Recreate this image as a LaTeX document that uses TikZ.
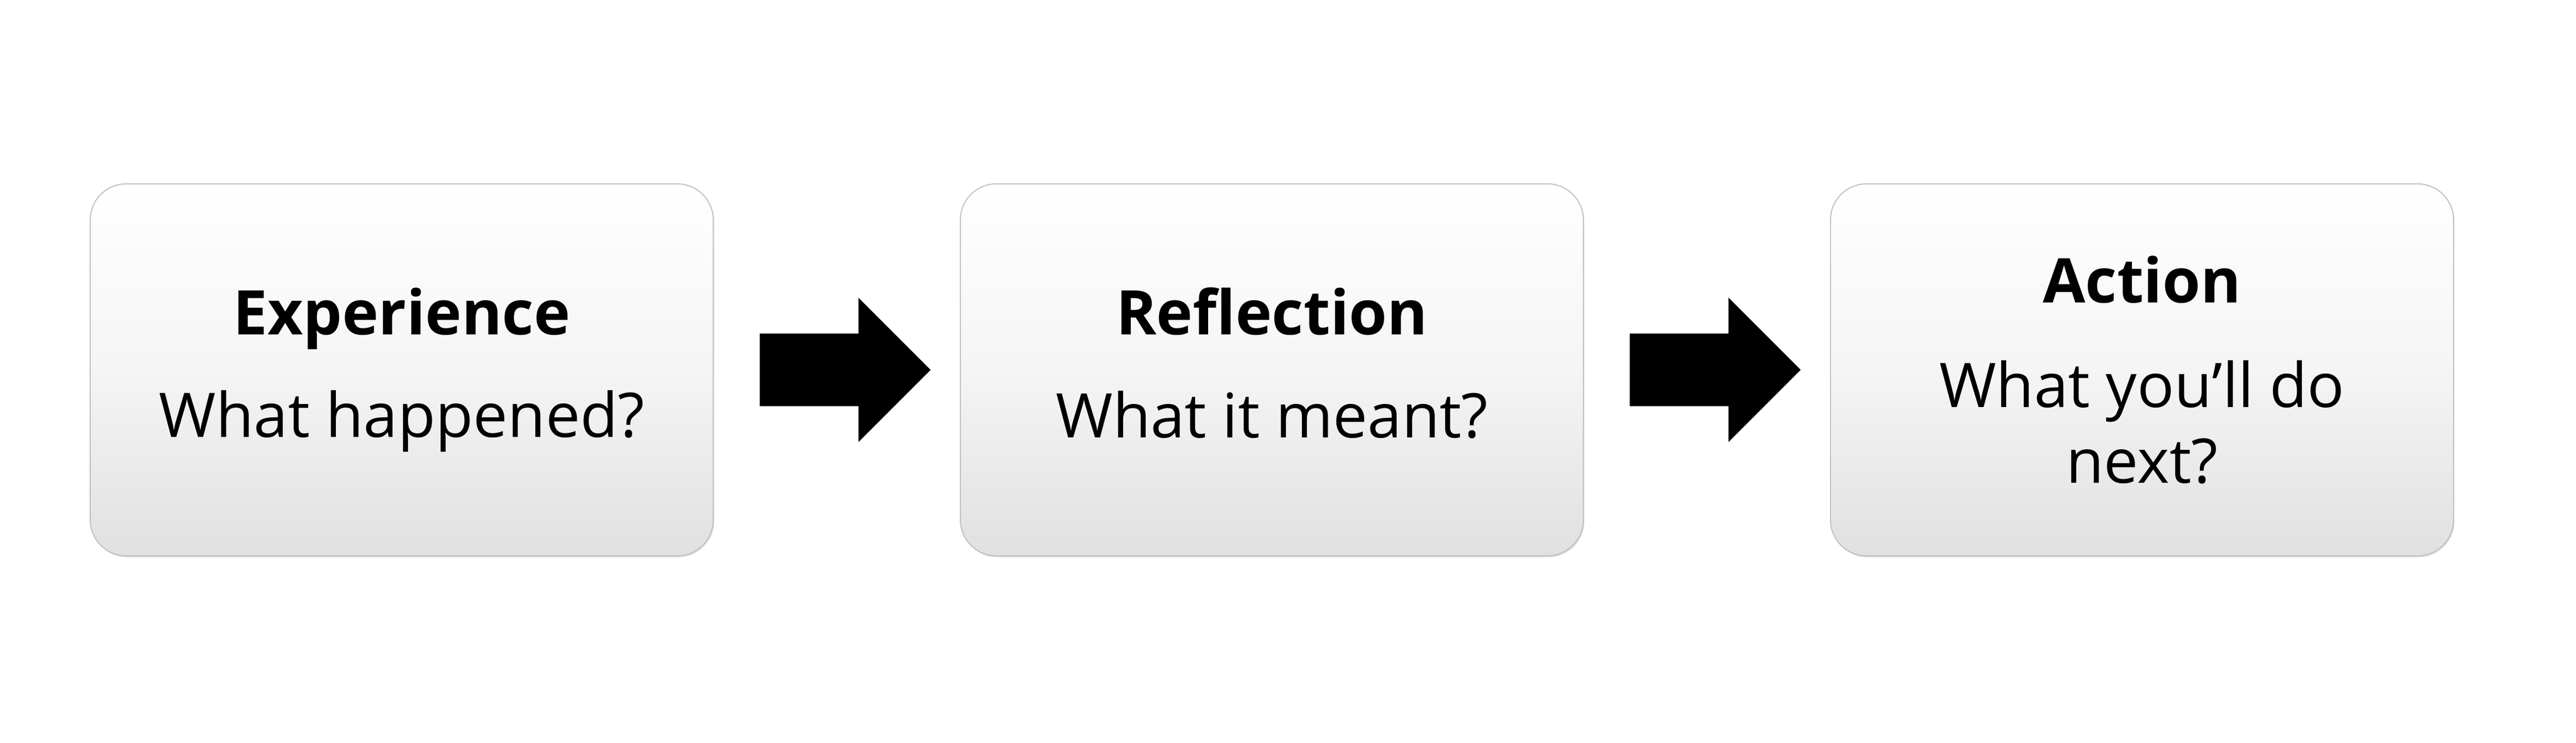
\documentclass[tikz,border=0pt]{standalone}
\usepackage{fontspec}
\setmainfont{Open Sans}
\usetikzlibrary{positioning, shadows, shapes.arrows}

\begin{document}
\begin{tikzpicture}[node distance=0.95cm]
\tikzset{stepbox/.style={draw=black!25, line width=0.6pt, rounded corners=0.75cm, top color=white, bottom color=black!12, middle color=black!4, align=center, text=black, minimum width=12.98cm, minimum height=7.75cm, font=\fontsize{36.5}{45}\selectfont, drop shadow={opacity=0.25, shadow xshift=0.02cm, shadow yshift=-0.03cm}}, blockarrow/.style={single arrow, fill=black, minimum height=3.56cm, inner xsep=0pt, inner ysep=0.75cm, single arrow head extend=0.745cm}}
\useasboundingbox (0,0) rectangle (53.67,-15.47);
\node[stepbox] (exp) at (8.37,-7.705) {\textbf{Experience}\\[16pt]What happened?};
\node[blockarrow, right=0.95cm of exp] (arr1) {};
\node[stepbox, right=0.6cm of arr1] (refl) {\textbf{Reflection}\\[16pt]What it meant?\vphantom{p}};
\node[blockarrow, right=0.95cm of refl] (arr2) {};
\node[stepbox, right=0.6cm of arr2] (act) {\textbf{Action}\\[17pt]What you’ll do\\next?};
\end{tikzpicture}
\end{document}
